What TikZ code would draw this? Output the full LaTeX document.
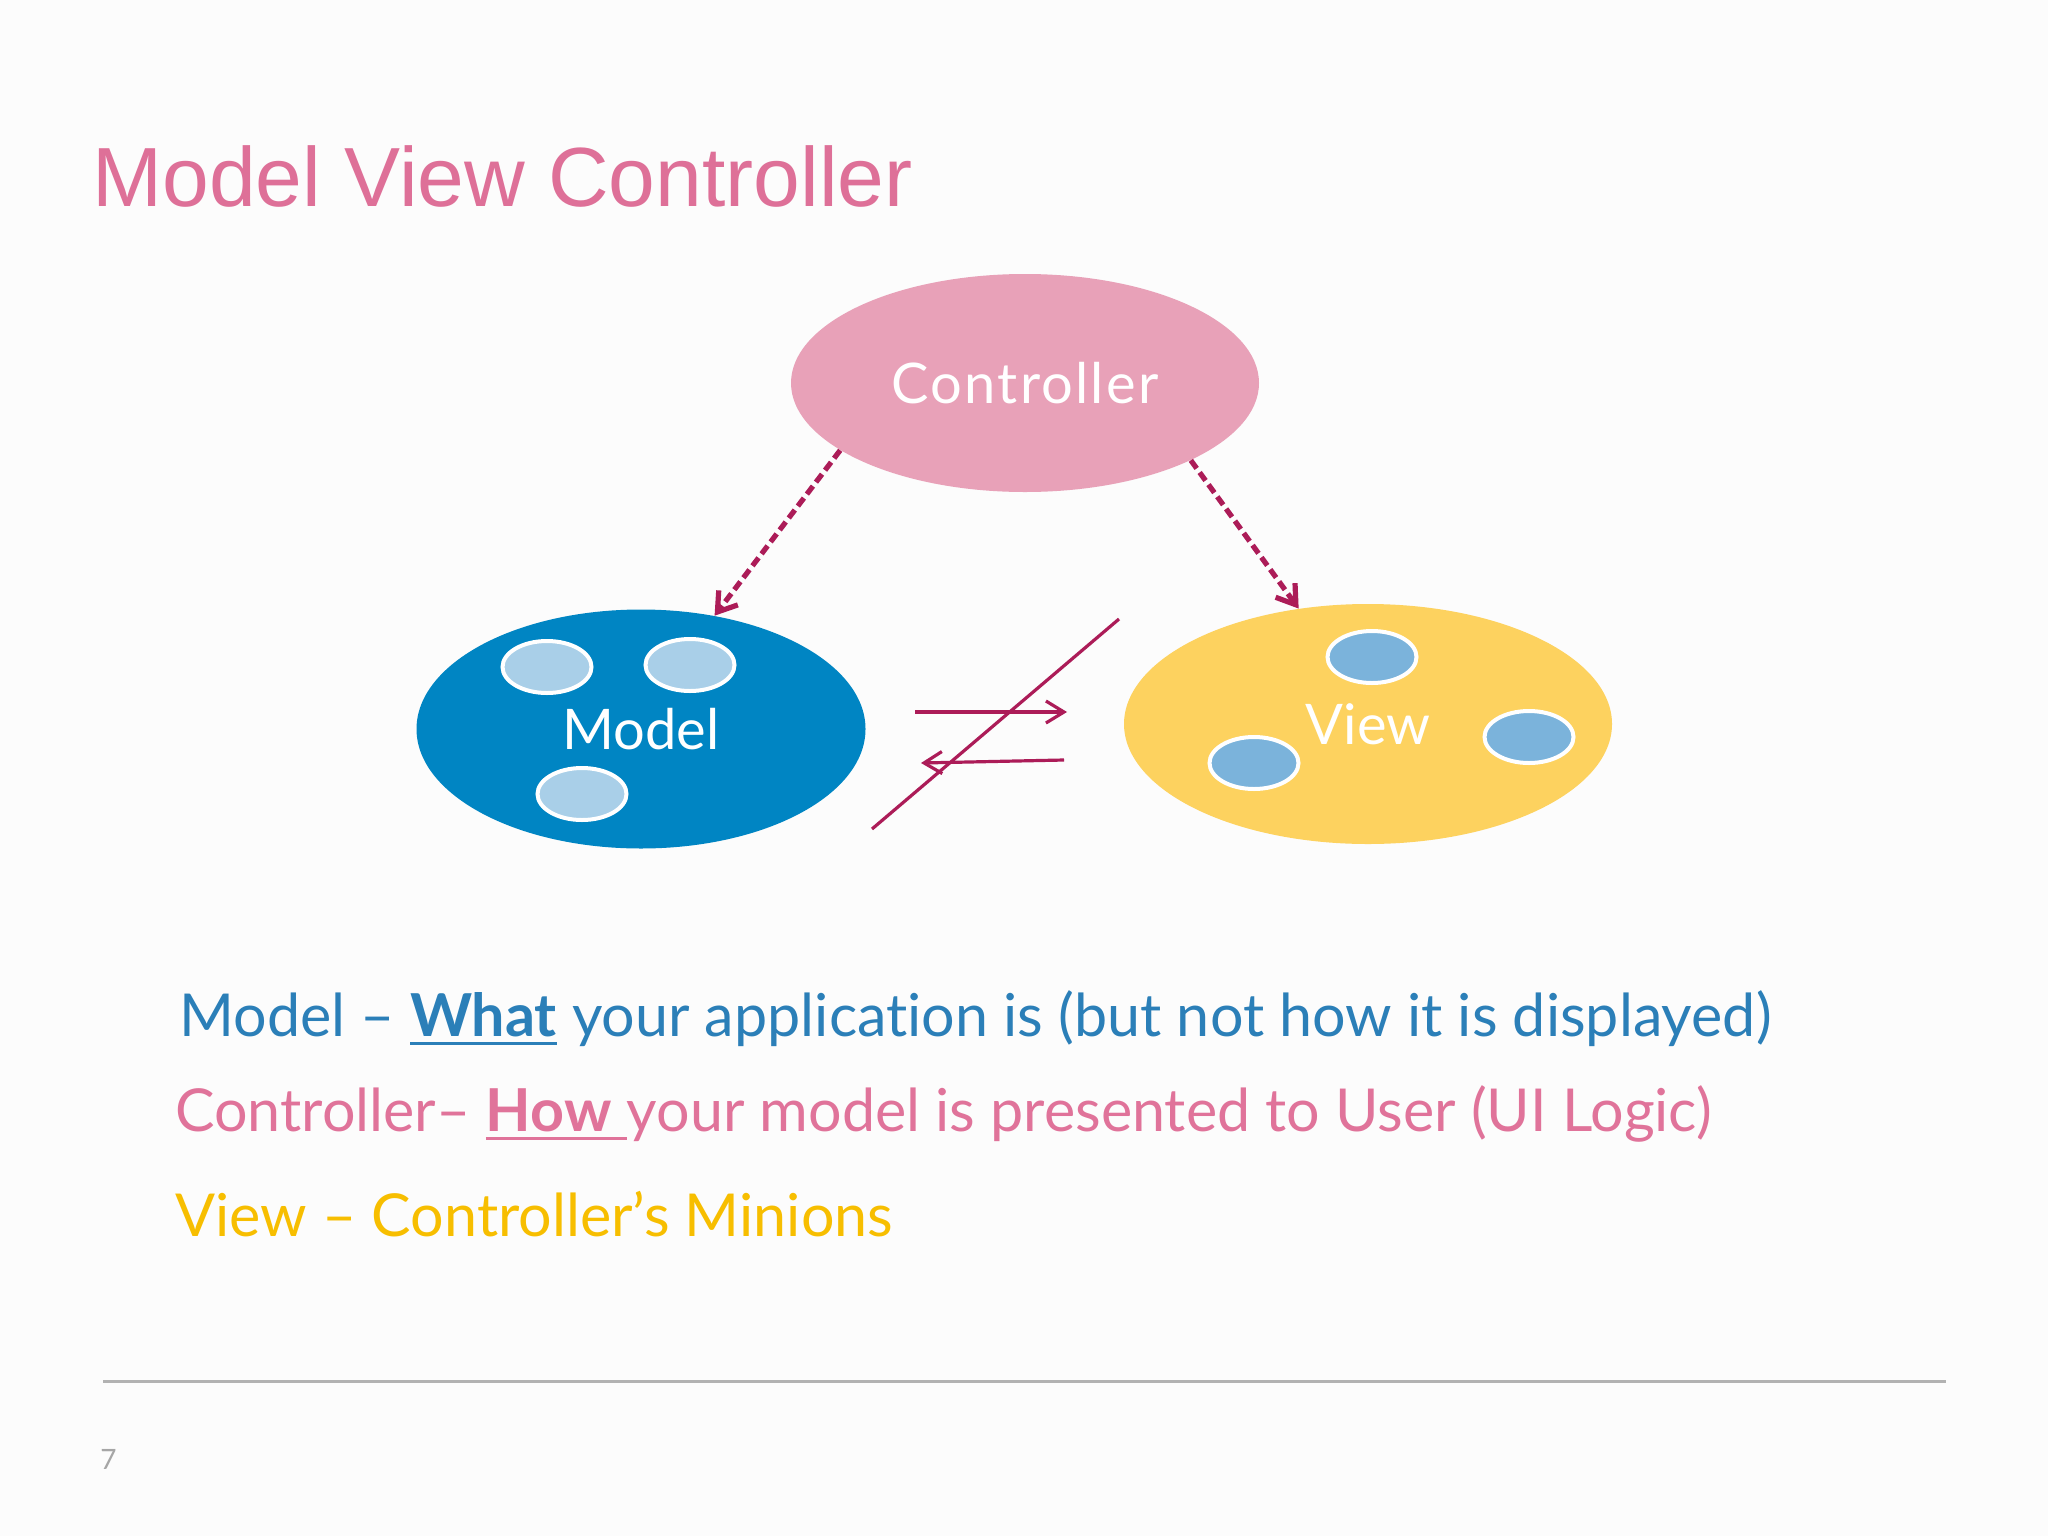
\documentclass[tikz,border=0pt]{standalone}
\usepackage{fontspec}
\setmainfont{Lato}[Ligatures=NoCommon]
\newfontfamily\titlefont{Liberation Sans}
\newcommand{\ulword}[1]{\setbox0\hbox{#1}\rlap{\rule[-4.5pt]{\wd0}{1.5pt}}\box0\relax}
\usetikzlibrary{shapes.geometric,arrows.meta}
\definecolor{mvcpink}{RGB}{232,161,184}
\definecolor{mvcblue}{RGB}{0,133,195}
\definecolor{mvcyellow}{RGB}{253,210,95}
\definecolor{dotlight}{RGB}{169,207,232}
\definecolor{dotmid}{RGB}{123,179,219}
\definecolor{arrowred}{RGB}{172,28,88}
\definecolor{titlepink}{RGB}{222,112,152}
\definecolor{textblue}{RGB}{43,127,184}
\definecolor{textpink}{RGB}{224,115,154}
\definecolor{textyellow}{RGB}{247,190,0}
\definecolor{rulegray}{RGB}{178,178,178}
\begin{document}
\begin{tikzpicture}[x=0.5pt, y=-0.5pt,
    blob/.style={ellipse, inner sep=0pt, text=white, font=\fontsize{28}{32}\selectfont},
    dot/.style={ellipse, draw=white, line width=2pt, minimum width=44.5pt, minimum height=26pt},
    flowline/.style={draw=arrowred, line width=1.6pt},
    controlline/.style={draw=arrowred, line width=2.6pt, dash pattern=on 5pt off 2.5pt},
    bodytext/.style={anchor=base west, inner sep=0pt, font=\fontsize{29.6}{34}\selectfont}]
    \useasboundingbox (0,0) rectangle (2048,1536);
    \fill[white!99!black] (0,0) rectangle (2048,1536);

    % Title
    \node[anchor=base west, inner sep=0pt, text=titlepink, font=\titlefont\fontsize{42}{48}\selectfont] (title) at (92,206) {Model View Controller};

    % Controller ellipse
    \node[blob, fill=mvcpink, minimum width=234pt, minimum height=109pt] (ctrl) at (1025,383)
        {\addfontfeature{LetterSpace=4}Controller};

    % Model ellipse with its three dots
    \node[blob, fill=mvcblue, minimum width=224.5pt, minimum height=119.5pt] (model) at (641,729) {Model};
    \node[dot, fill=dotlight] (model-a) at (547,667) {};
    \node[dot, fill=dotlight] (model-b) at (690,665) {};
    \node[dot, fill=dotlight] (model-c) at (582,794) {};

    % View ellipse with its three dots
    \node[blob, fill=mvcyellow, minimum width=244pt, minimum height=120pt] (view) at (1368,724) {View};
    \node[dot, fill=dotmid] (view-a) at (1372,657) {};
    \node[dot, fill=dotmid] (view-b) at (1254,763) {};
    \node[dot, fill=dotmid] (view-c) at (1529,737) {};

    % Controller drives model and view (dashed)
    \draw[controlline, -{Straight Barb[length=9pt, width=12pt]}] (ctrl.200) -- (model.57);
    \draw[controlline, -{Straight Barb[length=9pt, width=12pt]}] (ctrl.335) -- (view.121);

    % No direct model <-> view talk (crossed out)
    \coordinate (mv-top-start) at (915,712);
    \coordinate (mv-top-end) at (1067,712);
    \coordinate (mv-bot-start) at (1064,760);
    \coordinate (mv-bot-end) at (921,763);
    \coordinate (cross-low) at (872,829);
    \coordinate (cross-high) at (1119,619);
    \draw[flowline, -{Straight Barb[length=9pt, width=11pt]}] (mv-top-start) -- (mv-top-end);
    \draw[flowline, -{Straight Barb[length=9pt, width=11pt]}] (mv-bot-start) -- (mv-bot-end);
    \draw[flowline] (cross-low) -- (cross-high);

    % Explanation lines
    \node[bodytext, text=textblue] (line-model) at (179,1036)
        {Model -- \ulword{\textbf{What}} your application is (but not how it is displayed)};
    \node[bodytext, text=textpink] (line-ctrl) at (175,1131)
        {Controller-- \ulword{\textbf{How} }your model is presented to User (UI Logic)};
    \node[bodytext, text=textyellow] (line-view) at (175,1236)
        {View -- Controller’s Minions};

    % Footer rule and page number
    \coordinate (rule-left) at (103,1381);
    \coordinate (rule-right) at (1946,1381);
    \draw[rulegray, line width=1.5pt] (rule-left) -- (rule-right);
    \node[anchor=base west, inner sep=0pt, text=gray!70, font=\fontsize{14}{16}\selectfont] (page) at (100,1469) {7};
\end{tikzpicture}
\end{document}
